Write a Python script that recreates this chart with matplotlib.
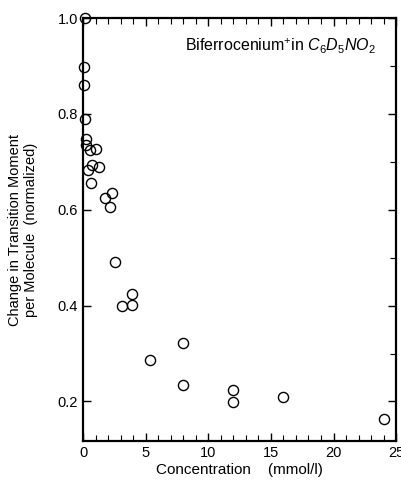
import matplotlib.pyplot as plt
from matplotlib.ticker import MultipleLocator

plt.rcParams['font.family'] = ['Liberation Sans', 'DejaVu Sans']
plt.rcParams['mathtext.fontset'] = 'custom'
plt.rcParams['mathtext.it'] = 'Liberation Sans:italic'
plt.rcParams['mathtext.rm'] = 'Liberation Sans'

# concentration (mmol/l) vs normalized change
conc = [0.15, 0.1, 0.1, 0.15, 0.25, 0.25, 0.55, 1.05, 0.7, 1.3, 0.4, 0.6,
        1.75, 2.3, 2.15, 2.55, 3.1, 3.9, 3.95, 5.35, 8.0, 7.95, 11.95, 11.95,
        15.95, 24.0]
change = [1.0, 0.898, 0.86, 0.79, 0.747, 0.735, 0.724, 0.726, 0.693, 0.69,
          0.683, 0.656, 0.624, 0.635, 0.605, 0.49, 0.40, 0.424, 0.401, 0.287,
          0.322, 0.234, 0.223, 0.199, 0.209, 0.163]

fig = plt.figure(figsize=(4.01, 4.87), dpi=100)
ax = fig.add_axes([0.207, 0.094, 0.781, 0.869])
ax.plot(conc, change, 'o', mfc='none', mec='black', ms=7.3, mew=1.0, clip_on=False)

ax.set_xlim(0, 25)
ax.set_ylim(0.117, 1.0)
ax.xaxis.set_major_locator(MultipleLocator(5))
ax.xaxis.set_minor_locator(MultipleLocator(1))
ax.yaxis.set_major_locator(MultipleLocator(0.2))
ax.yaxis.set_minor_locator(MultipleLocator(0.1))
ax.set_yticks([0.2, 0.4, 0.6, 0.8, 1.0])
ax.set_yticklabels(['0.2', '0.4', '0.6', '0.8', '1.0'])
ax.tick_params(which='both', direction='in', top=True, right=True, labelsize=10.5)
ax.tick_params(which='major', length=6, width=1)
ax.tick_params(which='minor', length=4, width=0.8)
ax.tick_params(axis='y', which='minor', left=False)
for s in ax.spines.values():
    s.set_linewidth(1.6)

ax.set_xlabel('Concentration    (mmol/l)', fontsize=11, labelpad=2)
ax.set_ylabel('Change in Transition Moment\nper Molecule  (normalized)', fontsize=10.5,
              labelpad=14)
ax.text(0.325, 0.922, r'Biferrocenium$^{+}$in $C_6D_5NO_2$', transform=ax.transAxes,
        fontsize=11.5)

fig.savefig('out.png', dpi=100)
